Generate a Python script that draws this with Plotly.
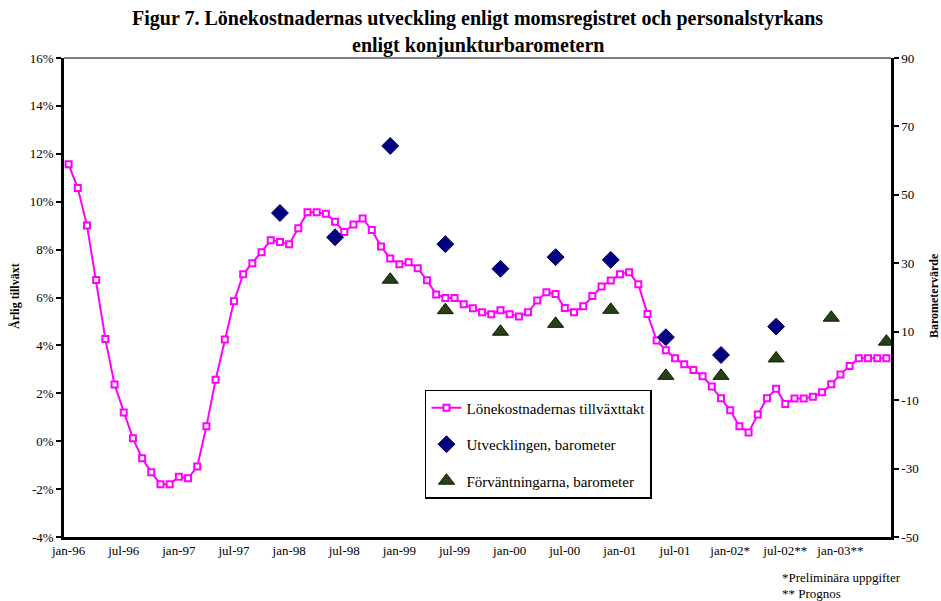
import plotly.graph_objects as go

# Swedish month names, used to build the monthly category list jan-96 .. jun-03
month_names = ["jan", "feb", "mar", "apr", "maj", "jun",
               "jul", "aug", "sep", "okt", "nov", "dec"]

# Lönekostnadernas tillväxttakt, % per month (jan-96 .. jun-03)
wage_growth = [
    11.56, 10.57, 9.01, 6.73, 4.27, 2.37, 1.20, 0.12, -0.71, -1.30, -1.80, -1.80,
    -1.48, -1.55, -1.06, 0.62, 2.57, 4.25, 5.84, 6.97, 7.43, 7.89, 8.39, 8.32,
    8.22, 8.89, 9.56, 9.56, 9.50, 9.16, 8.73, 9.05, 9.30, 8.82, 8.13, 7.63,
    7.39, 7.47, 7.22, 6.72, 6.13, 5.98, 5.98, 5.72, 5.55, 5.38, 5.30, 5.47,
    5.30, 5.21, 5.38, 5.87, 6.22, 6.15, 5.56, 5.38, 5.63, 6.06, 6.46, 6.71,
    6.97, 7.05, 6.55, 5.31, 4.20, 3.80, 3.46, 3.21, 2.97, 2.71, 2.28, 1.79,
    1.29, 0.62, 0.36, 1.11, 1.79, 2.19, 1.55, 1.78, 1.78, 1.86, 2.04, 2.38,
    2.79, 3.14, 3.46, 3.46, 3.46, 3.46,
]

# Konjunkturbarometern (right axis)
utv_months = ["dec-97", "jun-98", "dec-98", "jun-99", "dec-99",
              "jun-00", "dec-00", "jun-01", "dec-01", "jun-02"]
utv_values = [44.7, 37.6, 64.3, 35.6, 28.4, 31.8, 31.0, 8.4, 3.2, 11.5]

forv_months = ["dec-98", "jun-99", "dec-99", "jun-00", "dec-00",
               "jun-01", "dec-01", "jun-02", "dec-02", "jun-03"]
forv_values = [25.2, 16.3, 10.0, 12.3, 16.4, -2.9, -2.9, 2.2, 14.1, 7.1]

tick_labels = ["jan-96", "jul-96", "jan-97", "jul-97", "jan-98", "jul-98",
               "jan-99", "jul-99", "jan-00", "jul-00", "jan-01", "jul-01",
               "jan-02*", "jul-02**", "jan-03**"]

left_ticks = [-4, -2, 0, 2, 4, 6, 8, 10, 12, 14, 16]
right_ticks = [-50, -30, -10, 10, 30, 50, 70, 90]

months = [f"{m}-{y % 100:02d}" for y in range(1996, 2004) for m in month_names]
months = months[:len(wage_growth)]
x_idx = list(range(len(months)))
utv_x = [months.index(m) for m in utv_months]
forv_x = [months.index(m) for m in forv_months]
tick_x = [months.index(t.rstrip("*")) for t in tick_labels]
bounds = [i - 0.5 for i in range(len(months) + 1)]
xrange_ = [-0.5, len(months) - 0.5]

FONT = "Liberation Serif, Times New Roman, serif"


def txt(size):
    return dict(family=FONT, size=size, color="black")


fig = go.Figure()

fig.add_trace(go.Scatter(
    x=x_idx, y=wage_growth, mode="lines+markers",
    name="Lönekostnadernas tillväxttakt", legendgroup="a",
    line=dict(color="#ff00ff", width=2),
    marker=dict(symbol="square", size=6, color="white",
                line=dict(color="#ff00ff", width=2)),
))
fig.add_trace(go.Scatter(
    x=utv_x, y=utv_values, mode="markers", yaxis="y2",
    name="Utvecklingen, barometer", legendgroup="b",
    marker=dict(symbol="diamond", size=13, color="#000080",
                line=dict(color="#000060", width=1)),
))
fig.add_trace(go.Scatter(
    x=forv_x, y=forv_values, mode="markers", yaxis="y2",
    name="Förväntningarna, barometer", legendgroup="c",
    marker=dict(symbol="triangle-up", size=14, color="#264214",
                line=dict(color="#0d1a04", width=1)),
))

axis_common = dict(showgrid=False, zeroline=False, linecolor="black",
                   linewidth=2.5, tickcolor="black", tickwidth=2,
                   tickfont=txt(13))

fig.update_layout(
    width=941, height=601,
    margin=dict(l=64, r=50, t=58, b=64),
    paper_bgcolor="white", plot_bgcolor="white",
    font=dict(family=FONT, color="black"),
    xaxis=dict(axis_common, range=xrange_, tickmode="array", tickvals=tick_x,
               ticktext=tick_labels, ticks="", showline=True),
    # two overlay axes draw the month ticks crossing the axis line
    xaxis2=dict(axis_common, range=xrange_, overlaying="x", anchor="y",
                side="bottom", tickmode="array", tickvals=bounds,
                ticks="outside", ticklen=4, showticklabels=False, showline=False),
    xaxis3=dict(axis_common, range=xrange_, overlaying="x", anchor="y",
                side="bottom", tickmode="array", tickvals=bounds,
                ticks="inside", ticklen=4, showticklabels=False, showline=False),
    yaxis=dict(axis_common, range=[-4, 16], tickmode="array", tickvals=left_ticks,
               ticktext=[f"{v}%" for v in left_ticks], ticks="outside", ticklen=5,
               showline=True),
    yaxis2=dict(axis_common, range=[-50, 90], overlaying="y", side="right",
                tickmode="array", tickvals=right_ticks,
                ticktext=[str(v) for v in right_ticks], ticks="outside",
                ticklen=5, showline=True),
    yaxis3=dict(axis_common, range=[-4, 16], overlaying="y", side="left",
                tickmode="array", tickvals=left_ticks, ticks="inside", ticklen=5,
                showticklabels=False, showline=False),
    yaxis4=dict(axis_common, range=[-50, 90], overlaying="y", side="right",
                tickmode="array", tickvals=right_ticks, ticks="inside", ticklen=5,
                showticklabels=False, showline=False),
    showlegend=True,
    legend=dict(
        x=0.4365, y=0.307, xanchor="left", yanchor="top",
        bgcolor="white", bordercolor="black", borderwidth=1.5,
        font=txt(15), tracegroupgap=14, itemwidth=30,
    ),
    shapes=[dict(type="line", xref="paper", yref="paper", x0=0, x1=1, y0=1, y1=1,
                 line=dict(color="#808080", width=2))],
    annotations=[
        dict(text="<b>Figur 7. Lönekostnadernas utveckling enligt momsregistret "
                  "och personalstyrkans</b>",
             xref="paper", yref="paper", x=0.5, y=1.0835, xanchor="center",
             yanchor="middle", showarrow=False, font=txt(20)),
        dict(text="<b>enligt konjunkturbarometern</b>",
             xref="paper", yref="paper", x=0.5, y=1.027, xanchor="center",
             yanchor="middle", showarrow=False, font=txt(20)),
        dict(text="<b>Årlig tillväxt</b>", textangle=-90,
             xref="paper", yref="paper", x=-0.0593, y=0.503, xanchor="center",
             yanchor="middle", showarrow=False, font=txt(12)),
        dict(text="<b>Barometervärde</b>", textangle=-90,
             xref="paper", yref="paper", x=1.052, y=0.503, xanchor="center",
             yanchor="middle", showarrow=False, font=txt(12)),
        dict(text="*Preliminära uppgifter", xref="paper", yref="paper",
             x=0.866, y=-0.084, xanchor="left", yanchor="middle", showarrow=False,
             font=txt(13)),
        dict(text="** Prognos", xref="paper", yref="paper",
             x=0.866, y=-0.117, xanchor="left", yanchor="middle", showarrow=False,
             font=txt(13)),
    ],
)

# drop the default 8px page margin so the figure fills the window exactly
fig.write_html("out.html", config={"displayModeBar": False},
               post_script="document.body.style.margin='0';"
                           "document.body.style.overflow='hidden';")
